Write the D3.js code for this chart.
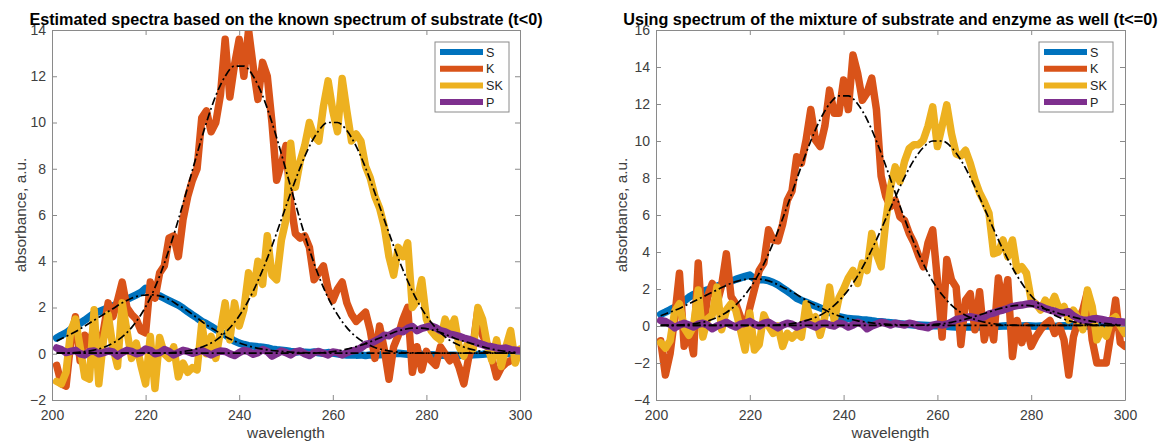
<!DOCTYPE html>
<html>
<head>
<meta charset="utf-8">
<script src="https://cdn.jsdelivr.net/npm/d3@7"></script>
<style>
  body { margin: 0; background: #fff; }
  svg { font-family: "Liberation Sans", Arial, sans-serif; }
  .axis text { fill: #404040; font-size: 14px; font-family: "Liberation Sans", Arial, sans-serif; }
  .axis path, .axis line { stroke: #8a8a8a; }
</style>
</head>
<body>
<svg id="chart" width="1160" height="444"></svg>
<script>
const wavelengths = d3.range(201, 301);
const fitWavelengths = d3.range(201, 300, 2);
const xTicks = [200, 220, 240, 260, 280, 300];
const leftYTicks = [-2, 0, 2, 4, 6, 8, 10, 12, 14];
const rightYTicks = [-4, -2, 0, 2, 4, 6, 8, 10, 12, 14, 16];
const seriesNames = ['S', 'K', 'SK', 'P'];
const seriesColors = ['#0072BD', '#D95319', '#EDB120', '#7E2F8E'];
const leftTitle = 'Estimated spectra based on the known spectrum of substrate (t<0)';
const rightTitle = 'Using spectrum of the mixture of substrate and enzyme as well (t<=0)';

// left panel, one value per nm from 201 to 300
const leftS = [
  0.68, 0.80, 0.90, 1.05, 1.20, 1.32, 1.45, 1.60, 1.75, 1.82,
  1.90, 2.00, 2.07, 2.15, 2.25, 2.35, 2.45, 2.55, 2.65, 2.83,
  2.70, 2.55, 2.50, 2.40, 2.30, 2.20, 2.10, 1.97, 1.82, 1.68,
  1.55, 1.40, 1.30, 1.18, 1.05, 0.96, 0.82, 0.68, 0.55, 0.46,
  0.40, 0.35, 0.33, 0.30, 0.28, 0.25, 0.20, 0.17, 0.15, 0.13,
  0.10, 0.08, 0.10, 0.06, 0.05, 0.08, 0.04, 0.02, 0.05, 0.03,
  0.00, -0.03, -0.05, -0.04, -0.06, -0.05, -0.08, -0.05, -0.06, -0.04,
  -0.03, -0.02, 0.00, 0.02, 0.00, -0.02, 0.01, 0.00, -0.02, -0.03,
  -0.04, -0.05, -0.06, -0.05, -0.07, -0.06, -0.08, -0.05, -0.06, -0.04,
  -0.03, -0.02, 0.00, 0.01, -0.01, 0.00, 0.02, 0.01, 0.00, 0.01
];
const leftK = [
  -0.5, -1.3, -1.4, 0.5, 1.6, -0.3, 0.8, 0.3, 1.2, 0.2,
  1.0, 2.2, 1.6, 2.3, 3.1, 2.0, 1.7, 1.5, 1.0, 0.9,
  3.1, 2.4, 3.5, 3.8, 5.0, 5.1, 4.2, 5.8, 6.8, 7.5,
  8.0, 10.2, 10.5, 9.6, 10.0, 11.2, 13.6, 11.1, 12.5, 13.6,
  12.0, 14.0, 12.4, 11.0, 12.6, 12.0, 10.0, 7.5, 8.2, 9.0,
  6.5, 5.2, 5.0, 5.1, 4.6, 3.2, 3.5, 3.8, 2.8, 2.3,
  2.8, 3.1, 2.2, 1.7, 1.4, 1.6, 1.8, 1.0, -0.2, 1.2,
  0.2, -1.1, 0.3, 0.8, 1.5, 2.0, -0.8, 0.3, -0.7, 0.1,
  -0.3, -0.5, 0.3, 0.0, -0.3, -0.1, -0.6, -1.3, -0.2, 0.4,
  1.9, 0.8, 0.4, -0.2, -1.0, -0.6, -0.4, -0.3, -0.2, -0.1
];
const leftSK = [
  -1.2, -1.3, -0.8, 1.0, 1.5, 0.3, -1.0, -1.1, 1.9, -1.3,
  0.6, 1.7, 0.3, -0.55, 2.2, 1.0, -0.2, 0.46, -0.5, -1.3,
  0.75, -1.5, 0.7, 0.0, -0.2, 0.3, -1.0, -0.4, -0.8, -0.6,
  -0.7, 1.3, 0.0, 0.75, -0.2, 1.0, 2.2, 0.6, 2.2, 1.2,
  1.9, 3.5, 2.6, 4.0, 3.0, 5.1, 3.4, 3.2, 4.9, 5.8,
  9.1, 7.2, 8.3, 9.0, 10.0, 9.4, 9.2, 10.7, 11.8, 10.5,
  9.6, 11.9, 10.5, 9.2, 9.5, 9.2, 8.1, 7.6, 6.8, 6.3,
  5.5, 4.2, 3.4, 4.6, 4.2, 4.8, 2.0, 2.3, 3.2, 1.5,
  1.0, 0.75, 0.6, 1.5, 1.0, 1.5, 0.3, -0.1, 0.6, 0.2,
  2.0, 1.5, 0.4, -0.3, 0.6, -0.55, 0.3, 1.0, -0.4, 0.2
];
const leftP = [
  0.25, 0.18, 0.05, 0.10, 0.15, 0.00, -0.05, 0.10, 0.12, 0.00,
  0.05, 0.12, 0.08, -0.10, 0.05, 0.15, 0.10, 0.00, 0.05, 0.20,
  0.15, 0.00, 0.05, 0.18, 0.10, -0.05, 0.05, 0.15, 0.10, 0.02,
  0.08, 0.15, 0.05, -0.05, 0.05, 0.12, 0.10, 0.00, -0.08, 0.05,
  0.15, 0.10, -0.02, 0.05, 0.18, 0.10, -0.10, 0.00, 0.12, 0.05,
  -0.05, 0.08, 0.12, 0.00, -0.08, 0.05, 0.10, 0.02, -0.05, 0.08,
  0.05, -0.05, 0.05, 0.12, 0.15, 0.25, 0.40, 0.45, 0.55, 0.65,
  0.80, 0.78, 0.90, 1.00, 0.95, 1.10, 1.18, 1.00, 1.10, 1.15,
  1.20, 1.12, 1.00, 0.95, 0.85, 0.80, 0.75, 0.68, 0.62, 0.55,
  0.46, 0.40, 0.32, 0.30, 0.25, 0.22, 0.25, 0.18, 0.15, 0.12
];

// right panel
const rightS = [
  0.63, 0.75, 0.88, 1.00, 1.15, 1.35, 1.55, 1.70, 1.80, 1.87,
  1.95, 2.05, 2.15, 2.25, 2.35, 2.42, 2.52, 2.60, 2.68, 2.75,
  2.55, 2.50, 2.50, 2.45, 2.35, 2.22, 2.05, 1.88, 1.70, 1.50,
  1.38, 1.28, 1.18, 1.08, 0.98, 0.88, 0.75, 0.62, 0.50, 0.45,
  0.40, 0.38, 0.36, 0.33, 0.32, 0.28, 0.25, 0.23, 0.20, 0.18,
  0.15, 0.12, 0.10, 0.08, 0.06, 0.05, 0.04, 0.03, 0.02, 0.02,
  0.00, -0.02, -0.04, -0.05, -0.04, -0.06, -0.05, -0.07, -0.05, -0.04,
  -0.05, -0.04, -0.02, 0.00, 0.01, 0.00, -0.01, 0.00, 0.01, 0.00,
  -0.01, 0.00, 0.01, 0.00, -0.02, 0.00, 0.01, 0.00, -0.01, 0.00,
  0.00, 0.01, 0.00, -0.01, 0.00, 0.01, 0.00, 0.00, 0.01, 0.00
];
const rightK = [
  -0.8, -2.65, -1.5, 0.5, 2.85, -1.1, -0.2, -1.5, 3.4, -0.4,
  1.6, 2.3, 1.2, 2.2, 3.9, 1.6, 1.2, 0.5, -0.2, 1.0,
  2.0, 3.0, 3.4, 5.2, 4.65, 4.6, 5.5, 6.8, 7.3, 9.15,
  8.8, 10.05, 11.7, 10.05, 9.7, 10.8, 12.75, 11.5, 11.5, 13.3,
  11.7, 14.65, 13.65, 12.2, 12.6, 13.4, 11.7, 8.1, 7.0, 6.45,
  6.8, 5.9, 5.7, 5.0, 4.5, 3.8, 3.2, 4.5, 5.2, 2.5,
  -0.6, 3.6, 2.5, 2.1, -1.0, 1.4, 1.75, -0.2, 1.85, -0.75,
  0.5, -0.75, 2.6, 1.05, 2.5, -1.65, 0.3, -0.9, 0.0, -1.1,
  -0.6, -0.2, 0.1, 0.3, -0.4, 0.0, -0.75, -2.65, -0.6, 0.3,
  0.86, 1.85, -0.75, -2.0, -2.0, -2.0, -0.4, 1.4, -0.9, -1.1
];
const rightSK = [
  -0.9, -1.2, -0.8, 0.8, 1.2, -0.1, -0.5, 0.0, 1.95, -0.6,
  0.4, 0.6, 2.1, -0.2, 0.86, 1.2, 0.86, -0.2, -1.3, 0.7,
  -1.3, -1.0, 0.6, 0.0, -0.4, 0.0, -1.1, -0.4, -0.65, -0.4,
  -0.6, 1.2, 0.3, 0.5, -0.5, 0.5, 2.1, 0.3, 1.5, 2.0,
  2.6, 3.0, 2.3, 3.4, 3.0, 5.0, 3.9, 3.2, 5.7, 7.5,
  8.6, 7.8, 8.9, 9.6, 9.8, 9.8, 10.05, 10.8, 11.85, 9.7,
  10.8, 11.95, 10.4, 9.3, 9.2, 9.5, 8.8, 7.9, 7.2, 6.7,
  6.1, 3.9, 4.0, 4.65, 3.75, 4.65, 3.0, 3.2, 2.85, 1.4,
  1.2, 0.86, 1.4, 1.05, 1.6, 0.86, 1.05, 0.32, 0.86, 0.4,
  -0.2, 1.95, 1.05, -0.75, -0.2, -0.55, 0.32, 0.5, 0.0, -0.4
];
const rightP = [
  0.30, 0.25, 0.10, -0.10, 0.05, 0.15, 0.05, -0.05, 0.10, 0.15,
  0.05, -0.15, 0.00, 0.10, 0.20, 0.05, -0.05, 0.10, 0.15, 0.25,
  0.10, 0.00, 0.15, 0.20, 0.05, -0.10, 0.05, 0.15, 0.10, -0.05,
  0.05, 0.15, 0.05, -0.05, 0.10, 0.15, 0.05, 0.00, 0.15, 0.10,
  -0.05, 0.05, 0.20, 0.10, -0.15, 0.00, 0.10, 0.20, 0.15, 0.05,
  0.15, 0.10, 0.05, 0.15, 0.10, 0.00, -0.05, -0.10, 0.05, 0.10,
  0.05, 0.10, 0.20, 0.35, 0.40, 0.45, 0.50, 0.45, 0.40, 0.50,
  0.65, 0.70, 0.80, 0.86, 0.95, 1.05, 1.10, 1.13, 1.18, 1.22,
  1.15, 1.05, 0.95, 0.86, 0.80, 0.70, 0.72, 0.77, 0.55, 0.40,
  0.32, 0.30, 0.38, 0.40, 0.35, 0.30, 0.28, 0.25, 0.23, 0.20
];

// fitted spectra (dash-dot), every 2 nm from 201 to 299
const fitS = [
  0.55, 0.75, 0.95, 1.20, 1.45, 1.70, 1.95, 2.20, 2.40, 2.52,
  2.55, 2.50, 2.35, 2.10, 1.85, 1.55, 1.25, 1.00, 0.75, 0.55,
  0.40, 0.28, 0.20, 0.14, 0.10, 0.07, 0.05, 0.04, 0.04, 0.03,
  0.03, 0.03, 0.03, 0.03, 0.03, 0.03, 0.03, 0.03, 0.03, 0.03,
  0.03, 0.03, 0.03, 0.03, 0.03, 0.03, 0.03, 0.03, 0.03, 0.03
];
const fitK = [
  0.03, 0.03, 0.05, 0.09, 0.16, 0.27, 0.46, 0.73, 1.13, 1.69,
  2.42, 3.36, 4.50, 5.80, 7.21, 8.65, 10.00, 11.16, 12.00, 12.44,
  12.44, 12.00, 11.16, 10.00, 8.65, 7.21, 5.80, 4.50, 3.36, 2.42,
  1.69, 1.13, 0.73, 0.46, 0.27, 0.16, 0.09, 0.05, 0.04, 0.03,
  0.03, 0.03, 0.03, 0.03, 0.03, 0.03, 0.03, 0.03, 0.03, 0.03
];
const fitSK = [
  0.03, 0.03, 0.03, 0.03, 0.03, 0.03, 0.03, 0.03, 0.03, 0.03,
  0.03, 0.03, 0.04, 0.07, 0.13, 0.22, 0.37, 0.58, 0.91, 1.36,
  1.95, 2.71, 3.62, 4.66, 5.80, 6.95, 8.04, 8.97, 9.65, 10.00,
  10.00, 9.65, 8.97, 8.04, 6.95, 5.80, 4.66, 3.62, 2.71, 1.95,
  1.36, 0.91, 0.58, 0.37, 0.22, 0.13, 0.07, 0.04, 0.03, 0.03
];
const fitP = [
  0.03, 0.03, 0.03, 0.03, 0.03, 0.03, 0.03, 0.03, 0.03, 0.03,
  0.03, 0.03, 0.03, 0.03, 0.03, 0.03, 0.03, 0.03, 0.03, 0.03,
  0.03, 0.03, 0.03, 0.03, 0.03, 0.03, 0.03, 0.03, 0.04, 0.07,
  0.12, 0.20, 0.31, 0.44, 0.60, 0.76, 0.92, 1.04, 1.11, 1.11,
  1.04, 0.92, 0.76, 0.60, 0.48, 0.36, 0.25, 0.16, 0.10, 0.06
];

const panels = [
  { left: 52, right: 520, yDomain: [-2, 14], yTicks: leftYTicks, title: leftTitle,
    series: [leftS, leftK, leftSK, leftP], ylabelX: 26, legendX: 435 },
  { left: 656, right: 1125, yDomain: [-4, 16], yTicks: rightYTicks, title: rightTitle,
    series: [rightS, rightK, rightSK, rightP], ylabelX: 627, legendX: 1039 }
];
const fits = [fitS, fitK, fitSK, fitP];
const TOP = 30;
const BOTTOM = 400;

const svg = d3.select('#chart');

panels.forEach((p, i) => {
  const x = d3.scaleLinear().domain([200, 300]).range([p.left, p.right]);
  const y = d3.scaleLinear().domain(p.yDomain).range([BOTTOM, TOP]);
  const g = svg.append('g');

  g.append('clipPath')
    .attr('id', 'clip' + i)
    .append('rect')
    .attr('x', p.left)
    .attr('y', TOP)
    .attr('width', p.right - p.left)
    .attr('height', BOTTOM - TOP);

  const plot = g.append('g').attr('clip-path', `url(#clip${i})`);

  const line = d3.line()
    .x(d => x(d[0]))
    .y(d => y(d[1]));

  p.series.forEach((values, k) => {
    plot.append('path')
      .datum(d3.zip(wavelengths, values))
      .attr('fill', 'none')
      .attr('stroke', seriesColors[k])
      .attr('stroke-width', 7.5)
      .attr('stroke-linejoin', 'round')
      .attr('stroke-linecap', 'round')
      .attr('d', line);
  });

  const fitLine = d3.line()
    .x(d => x(d[0]))
    .y(d => y(d[1]))
    .curve(d3.curveMonotoneX);

  fits.forEach(values => {
    plot.append('path')
      .datum(d3.zip(fitWavelengths, values))
      .attr('fill', 'none')
      .attr('stroke', '#000')
      .attr('stroke-width', 1.7)
      .attr('stroke-dasharray', '8,3,2,3')
      .attr('d', fitLine);
  });

  // box with inward ticks on all four sides
  g.append('g').attr('class', 'axis')
    .attr('transform', `translate(0,${BOTTOM})`)
    .call(d3.axisBottom(x).tickValues(xTicks).tickSize(-5).tickSizeOuter(0).tickPadding(10));
  g.append('g').attr('class', 'axis')
    .attr('transform', `translate(0,${TOP})`)
    .call(d3.axisTop(x).tickValues(xTicks).tickSize(-5).tickSizeOuter(0).tickFormat(''));
  g.append('g').attr('class', 'axis')
    .attr('transform', `translate(${p.left},0)`)
    .call(d3.axisLeft(y).tickValues(p.yTicks).tickSize(-5).tickSizeOuter(0).tickPadding(6));
  g.append('g').attr('class', 'axis')
    .attr('transform', `translate(${p.right},0)`)
    .call(d3.axisRight(y).tickValues(p.yTicks).tickSize(-5).tickSizeOuter(0).tickFormat(''));

  g.append('text')
    .attr('x', (p.left + p.right) / 2)
    .attr('y', 25)
    .attr('text-anchor', 'middle')
    .attr('font-size', 16.2)
    .attr('font-weight', 'bold')
    .attr('fill', '#000')
    .text(p.title);

  g.append('text')
    .attr('x', (p.left + p.right) / 2)
    .attr('y', 438)
    .attr('text-anchor', 'middle')
    .attr('font-size', 15.4)
    .attr('fill', '#404040')
    .text('wavelength');

  g.append('text')
    .attr('transform', `translate(${p.ylabelX},${(TOP + BOTTOM) / 2}) rotate(-90)`)
    .attr('text-anchor', 'middle')
    .attr('font-size', 15.4)
    .attr('fill', '#404040')
    .text('absorbance, a.u.');

  // legend
  const legend = g.append('g').attr('transform', `translate(${p.legendX},42)`);
  legend.append('rect')
    .attr('width', 74)
    .attr('height', 70)
    .attr('fill', '#fff')
    .attr('stroke', '#8a8a8a');
  seriesNames.forEach((name, k) => {
    const ly = 10 + k * 16.7;
    legend.append('line')
      .attr('x1', 5).attr('x2', 48)
      .attr('y1', ly).attr('y2', ly)
      .attr('stroke', seriesColors[k])
      .attr('stroke-width', 6);
    legend.append('text')
      .attr('x', 51)
      .attr('y', ly + 4.5)
      .attr('font-size', 12.6)
      .attr('fill', '#262626')
      .text(name);
  });
});
</script>
</body>
</html>
